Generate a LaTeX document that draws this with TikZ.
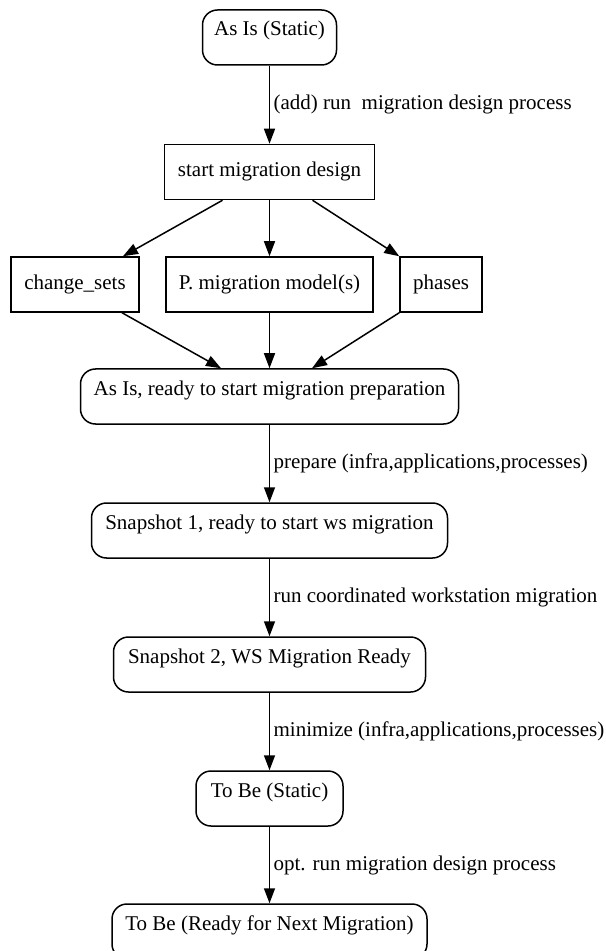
\documentclass[tikz,border=0pt]{standalone}
\usepackage{fontspec}
\setmainfont{Liberation Serif}
\usetikzlibrary{arrows.meta}
\begin{document}
\begin{tikzpicture}[x=0.5pt,y=-0.5pt,
  font=\fontsize{10.5pt}{12.6pt}\selectfont,
  box/.style={draw, line width=0.75pt, inner sep=0pt, minimum height=27.5pt,
    text height=7.3pt, text depth=2.3pt},
  rbox/.style={box, rounded corners=7.5pt, text depth=8.8pt},
  lbl/.style={anchor=west, inner sep=0pt, xshift=1.7pt},
  arr/.style={line width=0.75pt, -{Triangle[length=7.5pt,width=5.5pt]}}]
\useasboundingbox (0,0) rectangle (605,951);

\node[rbox, minimum width=67pt]    (asis)  at (269.5,37.5)  {As Is (Static)};
\node[box,  minimum width=105pt]   (start) at (269.5,172)   {start migration design};
\node[box,  minimum width=64pt]    (chg)   at (75,284.5)    {change\_sets};
\node[box,  minimum width=103.5pt] (pmod)  at (269.5,284.5) {P. migration model(s)};
\node[box,  minimum width=41pt]    (phases) at (441,284.5)  {phases};
\node[rbox, minimum width=189pt]   (ready) at (269.5,396.5) {As Is, ready to start migration preparation};
\node[rbox, minimum width=178pt]   (snap1) at (269.5,530.5) {Snapshot 1, ready to start ws migration};
\node[rbox, minimum width=156pt]   (snap2) at (269.5,664.5) {Snapshot 2, WS Migration Ready};
\node[rbox, minimum width=73.5pt]  (tobe)  at (269.5,798.5) {To Be (Static)};
\node[rbox, minimum width=157.5pt] (next)  at (269.5,931.5) {To Be (Ready for Next Migration)};

\draw[arr] (asis.south) -- node[lbl] (l1) {(add) run\ \ migration design process} (start.north);
\draw[arr] ([xshift=-23.5pt]start.south) -- ([xshift=24pt]chg.north);
\draw[arr] (start.south) -- (pmod.north);
\draw[arr] ([xshift=21.5pt]start.south) -- (phases.north west);
\draw[arr] ([xshift=23.5pt]chg.south) -- ([xshift=-24.25pt]ready.north);
\draw[arr] (pmod.south) -- (ready.north);
\draw[arr] (phases.south west) -- ([xshift=21.25pt]ready.north);
\draw[arr] (ready.south) -- node[lbl] (l2) {prepare (infra,applications,processes)} (snap1.north);
\draw[arr] (snap1.south) -- node[lbl] (l3) {run coordinated workstation migration} (snap2.north);
\draw[arr] (snap2.south) -- node[lbl] (l4) {minimize (infra,applications,processes)} (tobe.north);
\draw[arr] (tobe.south) -- node[lbl] (l5) {opt. run migration design process} (next.north);
\end{tikzpicture}
\end{document}
